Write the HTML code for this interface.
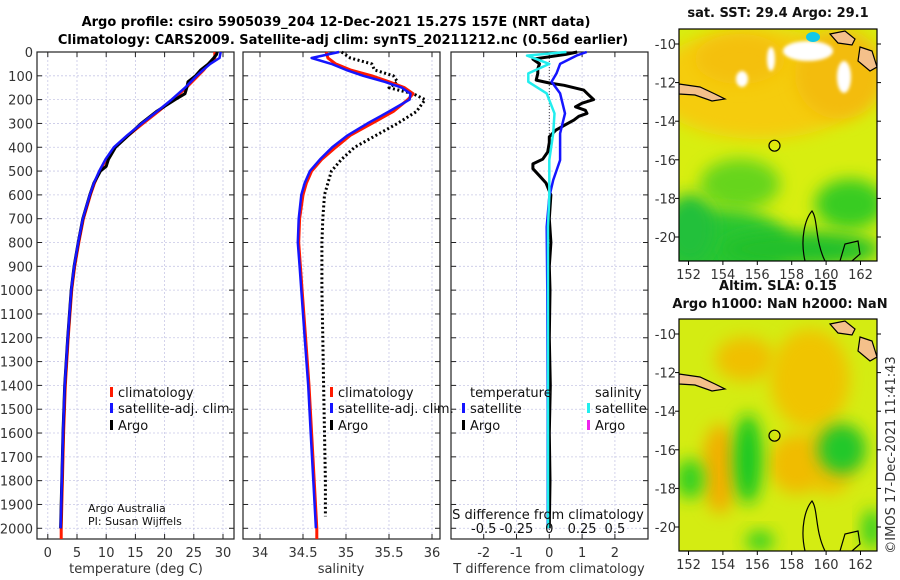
<!DOCTYPE html>
<html><head><meta charset="utf-8"><style>
html,body{margin:0;padding:0;background:#fff;}
svg{display:block;font-family:"DejaVu Sans","Liberation Sans",sans-serif;}
</style></head><body>
<svg id="fig" width="900" height="580" viewBox="0 0 900 580" xmlns="http://www.w3.org/2000/svg">
<defs>
<filter id="blur8" x="-50%" y="-50%" width="200%" height="200%"><feGaussianBlur stdDeviation="8"/></filter>
<filter id="blur5" x="-50%" y="-50%" width="200%" height="200%"><feGaussianBlur stdDeviation="5"/></filter>
<filter id="blur2" x="-50%" y="-50%" width="200%" height="200%"><feGaussianBlur stdDeviation="1.5"/></filter>
<clipPath id="clipMap1"><rect x="679" y="29" width="198" height="232"/></clipPath>
<clipPath id="clipMap2"><rect x="679" y="319" width="198" height="232"/></clipPath>
</defs>
<text x="336" y="26" text-anchor="middle" font-weight="bold" font-size="13">Argo profile: csiro 5905039_204 12-Dec-2021 15.27S 157E (NRT data)</text>
<text x="343" y="44" text-anchor="middle" font-weight="bold" font-size="13">Climatology: CARS2009. Satellite-adj clim: synTS_20211212.nc (0.56d earlier)</text>
<g id="g"></g>
</svg>
<script>
// ---------- data ----------
const tempDepths = [0,25,50,75,100,150,200,250,300,350,400,450,500,550,600,700,800,900,1000,1200,1400,1600,1800,2000,2045];
const tempClim   = [28.6,28.6,27.5,26.7,25.7,23.7,21.4,18.9,16.3,13.8,11.5,10.0,8.9,8.0,7.3,6.1,5.3,4.6,4.1,3.5,3.0,2.7,2.5,2.3,2.3];
const tempSat    = [29.6,29.4,27.8,26.6,25.5,23.5,21.2,18.7,16.1,13.6,11.3,9.9,8.8,7.9,7.2,6.0,5.2,4.5,4.0,3.4,2.9,2.6,2.4,2.2];
const argoDepths = [0,10,25,50,75,100,125,150,175,200,250,300,350,400,450,480,500,550,600,700,800,900,1000,1200,1400,1600,1800,2000];
const tempArgo   = [29.0,28.9,28.4,27.5,26.2,25.3,24.0,23.8,23.5,21.8,18.6,16.0,13.8,11.6,10.4,10.0,9.0,7.9,7.2,6.0,5.2,4.5,4.0,3.4,2.9,2.6,2.4,2.2];

const salDepths = [0,25,50,75,100,125,150,175,200,250,300,350,400,450,500,550,600,700,800,900,1000,1200,1400,1600,1800,2000,2045];
const salClim   = [34.77,34.79,34.88,35.05,35.3,35.5,35.68,35.78,35.72,35.55,35.3,35.05,34.88,34.72,34.6,34.54,34.5,34.46,34.45,34.47,34.49,34.53,34.57,34.6,34.63,34.66,34.66];
const salSat    = [34.92,34.6,34.83,35.0,35.2,35.45,35.65,35.75,35.74,35.5,35.25,35.02,34.84,34.7,34.58,34.52,34.48,34.45,34.44,34.46,34.48,34.52,34.56,34.59,34.62,34.65];
const salArgoDepths = [0,25,50,75,100,125,150,175,200,250,300,350,400,450,500,600,700,800,1000,1200,1400,1600,1800,1950];
const salArgo   = [34.95,35.05,35.3,35.33,35.55,35.6,35.5,35.78,35.92,35.82,35.6,35.35,35.1,34.95,34.83,34.75,34.73,34.72,34.72,34.73,34.74,34.75,34.76,34.76];

const diffArgoDepths = [0,10,20,30,50,70,90,118,130,140,160,180,200,215,230,245,258,270,286,305,328,356,380,420,450,470,490,520,550,600,700,800,900,1000,1200,1400,1600,1800,2000];
const diffArgoT = [0.85,0.5,0.0,-0.5,-0.3,-0.35,-0.35,-0.4,0.0,0.45,1.05,1.2,1.35,1.0,0.8,1.1,1.15,0.9,0.75,0.5,0.2,0.0,0.0,-0.05,-0.2,-0.5,-0.5,-0.3,-0.1,0.05,0.0,0.05,0.0,0.02,0.0,0.03,0.0,0.02,0.0];
const diffSatDepths = [0,15,50,90,125,174,258,342,454,538,608,734,1000,1500,2000];
const diffSatT = [1.14,0.83,0.33,0.22,0.07,0.33,0.48,0.33,0.33,0.12,0.0,-0.08,-0.06,-0.05,-0.05];
const diffSatS = [0.13,-0.17,0.0,-0.16,-0.16,-0.02,0.04,0.03,0.0,0.0,0.0,-0.01,-0.01,-0.01,-0.01];

const depthTicks = [0,100,200,300,400,500,600,700,800,900,1000,1100,1200,1300,1400,1500,1600,1700,1800,1900,2000];
const tempTicks = [0,5,10,15,20,25,30];
const salTicks = [34,34.5,35,35.5,36];
const salTickLabels = ["34","34.5","35","35.5","36"];
const diffTTicks = [-2,-1,0,1,2];
const diffSTicks = [-0.5,-0.25,0,0.25,0.5];
const diffSTickLabels = ["-0.5","-0.25","0","0.25","0.5"];
const mapLonTicks = [152,154,156,158,160,162];
const mapLatTicks = [-10,-12,-14,-16,-18,-20];

// ---------- helpers ----------
const NS="http://www.w3.org/2000/svg";
const G=document.getElementById('g');
function mk(tag,attrs,parent){const e=document.createElementNS(NS,tag);for(const k in attrs)e.setAttribute(k,attrs[k]);(parent||G).appendChild(e);return e;}
const TOP=52, BOT=539, DMAX=2045;
const yD = d => TOP + d*(BOT-TOP)/DMAX;
function lin(d0,d1,p0,p1){return v=>p0+(v-d0)*(p1-p0)/(d1-d0);}
const panels=[{x0:37,x1:234},{x0:243,x1:440},{x0:451,x1:648}];
const xT = lin(0,30,47.8,223);
const xS = lin(34,36,260,432);
const xDT = lin(0,1,549.3,582.1);
const xDS = v => xDT(v*4);

function panelFrame(p,xticks,xf,name){
  const grp=mk('g',{});
  
  
  depthTicks.forEach(d=>{
    const l=mk('line',{x1:p.x0,x2:p.x1,y1:yD(d),y2:yD(d),stroke:'#c8c8e6','stroke-width':0.8,'stroke-dasharray':'2,2'},grp);
    
    
    mk('line',{x1:p.x0,x2:p.x0+5,y1:yD(d),y2:yD(d),stroke:'#222'},grp);
    mk('line',{x1:p.x1,x2:p.x1-5,y1:yD(d),y2:yD(d),stroke:'#222'},grp);
  });
  xticks.forEach(v=>{
    const X=xf(v);
    const l=mk('line',{x1:X,x2:X,y1:TOP,y2:BOT,stroke:'#c8c8e6','stroke-width':0.8,'stroke-dasharray':'2,2'},grp);
    
    
    mk('line',{x1:X,x2:X,y1:BOT,y2:BOT-5,stroke:'#222'},grp);
    mk('line',{x1:X,x2:X,y1:TOP,y2:TOP+5,stroke:'#222'},grp);
  });
  const r=mk('rect',{x:p.x0,y:TOP,width:p.x1-p.x0,height:BOT-TOP,fill:'none',stroke:'#222','stroke-width':1.2},grp);
  
  
  return grp;
}
function line(xs,ds,xf,color,w,name,dash){
  const pts=xs.map((v,i)=>xf(v).toFixed(1)+','+yD(ds[i]).toFixed(1)).join(' ');
  const a={points:pts,fill:'none',stroke:color,'stroke-width':w,'stroke-linejoin':'round'};
  if(dash)a['stroke-dasharray']=dash;
  const e=mk('polyline',a);
  
  
  return e;
}
function txt(x,y,s,opts,name){
  const a=Object.assign({x:x,y:y,'font-size':13,fill:'#333'},opts||{});
  const t=mk('text',a);t.textContent=s;
  
  
  return t;
}
function legendEntry(x,y,color,label,name){
  const r=mk('rect',{x:x,y:y-10,width:3,height:10,fill:color});
  
  
  txt(x+8,y,label,{fill:'#111'},name);
}

// ---------- panel 1: temperature ----------
panelFrame(panels[0],tempTicks,xT,'temperature-panel');
depthTicks.forEach(d=>txt(33,yD(d)+5,String(d),{'text-anchor':'end'},'depth-tick-label'));
tempTicks.forEach(v=>txt(xT(v),557,String(v),{'text-anchor':'middle'},'temperature-tick-label'));
txt(136,573,'temperature (deg C)',{'text-anchor':'middle'},'temperature-axis-title');
line(tempClim,tempDepths,xT,'#ff1a00',3,'temperature-climatology-line');
line(tempArgo,argoDepths,xT,'#000',3,'temperature-argo-line');
line(tempSat,tempDepths.slice(0,tempSat.length),xT,'#1515ff',2.5,'temperature-satellite-line');
legendEntry(110,397,'#ff1a00','climatology','legend-climatology');
legendEntry(110,413,'#1515ff','satellite-adj. clim.','legend-satellite');
legendEntry(110,430,'#000','Argo','legend-argo');
txt(88,512,'Argo Australia',{'font-size':11,fill:'#111'},'credit-institution');
txt(88,525,'PI: Susan Wijffels',{'font-size':11,fill:'#111'},'credit-pi');

// ---------- panel 2: salinity ----------
panelFrame(panels[1],salTicks,xS,'salinity-panel');
salTicks.forEach((v,i)=>txt(xS(v),557,salTickLabels[i],{'text-anchor':'middle'},'salinity-tick-label'));
txt(341,573,'salinity',{'text-anchor':'middle'},'salinity-axis-title');
line(salArgo,salArgoDepths,xS,'#000',3,'salinity-argo-line','2,2.5');
line(salClim,salDepths,xS,'#ff1a00',3,'salinity-climatology-line');
line(salSat,salDepths.slice(0,salSat.length),xS,'#1515ff',2.5,'salinity-satellite-line');
legendEntry(330,397,'#ff1a00','climatology','legend-sal-climatology');
legendEntry(330,413,'#1515ff','satellite-adj. clim.','legend-sal-satellite');
legendEntry(330,430,'#000','Argo','legend-sal-argo');

// ---------- panel 3: differences ----------
panelFrame(panels[2],diffTTicks,xDT,'difference-panel');
line([0,0],[0,2045],xDT,'#444',1,'zero-line','1,2');
line(diffArgoT,diffArgoDepths,xDT,'#000',3,'argo-temperature-difference-line');
line(diffSatT,diffSatDepths,xDT,'#1515ff',2.5,'satellite-temperature-difference-line');
line(diffSatS,diffSatDepths,xDS,'#22eeee',2.5,'satellite-salinity-difference-line');
diffTTicks.forEach(v=>txt(xDT(v),557,String(v),{'text-anchor':'middle'},'temperature-difference-tick-label'));
txt(549,573,'T difference from climatology',{'text-anchor':'middle'},'temperature-difference-axis-title');
txt(548,519,'S difference from climatology',{'text-anchor':'middle',fill:'#111'},'salinity-difference-axis-title');
diffSTicks.forEach((v,i)=>txt(xDS(v),533,diffSTickLabels[i],{'text-anchor':'middle',fill:'#111'},'salinity-difference-tick-label'));
txt(470,397,'temperature',{fill:'#111'},'legend-temperature-heading');
txt(595,397,'salinity',{fill:'#111'},'legend-salinity-heading');
legendEntry(462,413,'#1515ff','satellite','legend-diff-t-satellite');
legendEntry(462,430,'#000','Argo','legend-diff-t-argo');
legendEntry(587,413,'#22eeee','satellite','legend-diff-s-satellite');
legendEntry(587,430,'#ee22ee','Argo','legend-diff-s-argo');

// ---------- maps ----------
const mx = lin(152,162,688.5,860.5);
function map(y0,clip,base,blobs,name,title1,title2){
  const grp=mk('g',{'clip-path':'url(#'+clip+')'});
  
  
  mk('rect',{x:679,y:y0,width:198,height:232,fill:base},grp);
  blobs.forEach(b=>{
    const e=mk('ellipse',{cx:b[0],cy:y0+b[1],rx:b[2],ry:b[3],fill:b[4],filter:'url(#blur'+(b[5]||8)+')'},grp);
    
    
  });
  const my = lin(-10,-20,y0+15,y0+208);
  // coastlines (approx)
  const isl=[
    `M679 ${y0+55} L700 ${y0+58} L715 ${y0+65} L725 ${y0+70} L712 ${y0+72} L695 ${y0+66} L679 ${y0+65} Z`,
    `M830 ${y0+5} L845 ${y0+2} L855 ${y0+10} L852 ${y0+16} L838 ${y0+14} Z`,
    `M860 ${y0+18} L872 ${y0+22} L877 ${y0+38} L870 ${y0+42} L858 ${y0+32} Z`
  ];
  isl.forEach(d=>{
    const e=mk('path',{d:d,fill:'#f4c08a',stroke:'#000','stroke-width':1.2},grp);
    
    
  });
  const cp=mk('path',{d:`M805 ${y0+232} C 800 ${y0+210}, 805 ${y0+190}, 812 ${y0+182} C 818 ${y0+190},815 ${y0+212},825 ${y0+232}`,fill:'none',stroke:'#000','stroke-width':1.2},grp);
  
  
  const cp2=mk('path',{d:`M840 ${y0+232} L845 ${y0+215} L858 ${y0+212} L860 ${y0+225} L852 ${y0+232}`,fill:'none',stroke:'#000','stroke-width':1.2},grp);
  
  
  const c=mk('circle',{cx:mx(157),cy:my(-15.27),r:5.5,fill:'none',stroke:'#000','stroke-width':1.2});
  
  
  const fr=mk('rect',{x:679,y:y0,width:198,height:232,fill:'none',stroke:'#000','stroke-width':1.2});
  
  
  mapLonTicks.forEach(v=>{
    mk('line',{x1:mx(v),x2:mx(v),y1:y0+232,y2:y0+236,stroke:'#000'});
    txt(mx(v),y0+250,String(v),{'text-anchor':'middle'},'longitude-tick-label');
  });
  mapLatTicks.forEach(v=>{
    mk('line',{x1:679,x2:675,y1:my(v),y2:my(v),stroke:'#000'});
    mk('line',{x1:877,x2:881,y1:my(v),y2:my(v),stroke:'#000'});
    txt(676,my(v)+5,String(v),{'text-anchor':'end'},'latitude-tick-label');
  });
  if(title1)txt(778,y0-12-(title2?17:0),title1,{'text-anchor':'middle','font-weight':'bold',fill:'#111'},name+'-title');
  if(title2)txt(780,y0-11,title2,{'text-anchor':'middle','font-weight':'bold',fill:'#111'},name+'-subtitle');
}
map(29,'clipMap1','#d8ee10',[
  [760,55,110,55,'#f5cc10'],[840,45,45,45,'#f3bc10'],[740,30,45,25,'#f4c010'],
  [740,155,40,25,'#66d51a'],[720,215,70,35,'#2cc630'],[850,175,35,25,'#38cc22'],[800,220,80,18,'#22c02a'],[690,200,25,35,'#20c03a'],
  [808,22,25,10,'#ffffff',2],[844,48,7,16,'#ffffff',2],[742,50,6,8,'#ffffff',2],[771,30,4,12,'#ffffff',2],
  [813,8,7,5,'#10c8e8',1.5]
],'sst-map','sat. SST: 29.4  Argo: 29.1',null);
map(319,'clipMap2','#d4ec12',[
  [720,150,18,45,'#f0b000'],[745,40,30,22,'#f0c000'],[810,60,40,50,'#f0c400'],[830,140,25,35,'#f0c000'],[797,145,28,30,'#f0bc00'],
  [748,140,14,45,'#14c824'],[842,130,24,25,'#22c82a'],[690,160,14,20,'#30d020'],[760,222,14,10,'#30d020'],[872,210,10,20,'#30d020']
],'sla-map','Altim. SLA: 0.15','Argo h1000: NaN h2000: NaN');
const cr=txt(895,455,'©IMOS 17-Dec-2021 11:41:43',{'text-anchor':'middle',fill:'#333',transform:'rotate(-90 895 455)'},'copyright-timestamp');
</script>
</body></html>
